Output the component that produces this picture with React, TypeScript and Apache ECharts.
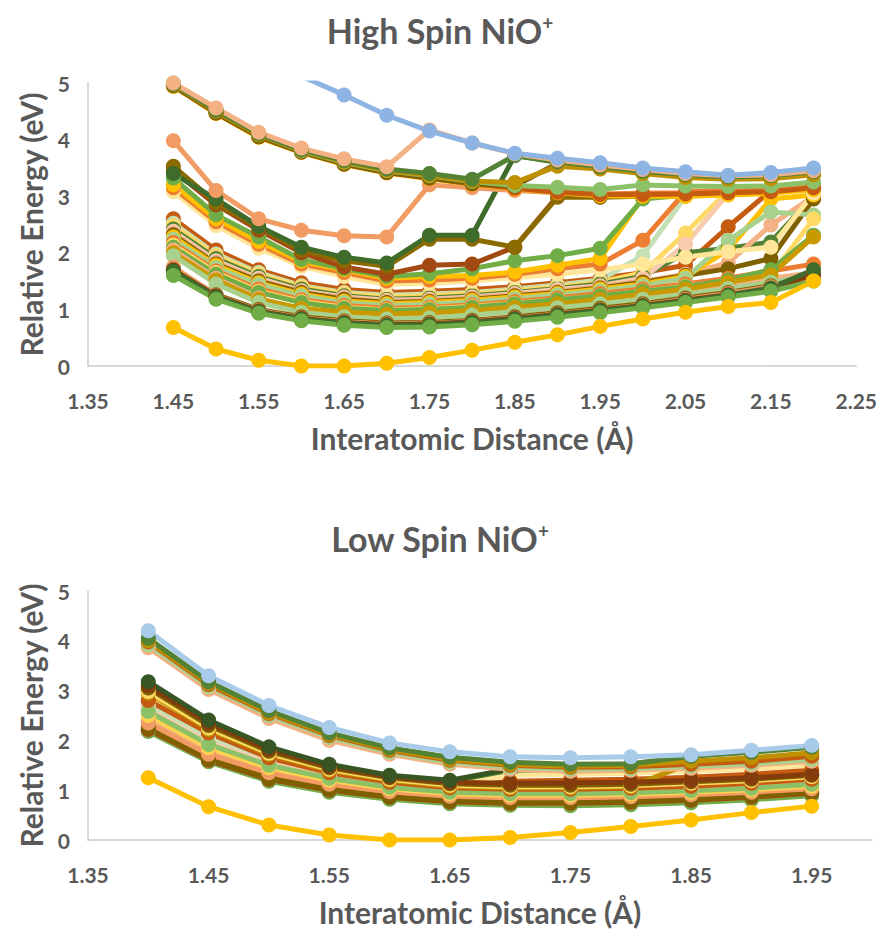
import React, { useEffect, useRef } from 'react';
import * as echarts from 'echarts';

const FONT = 'Lato, "Open Sans", sans-serif';
const GREY = '#595959';

// ---------- High spin (top) ----------
const hsX = [1.45, 1.5, 1.55, 1.6, 1.65, 1.7, 1.75, 1.8, 1.85, 1.9, 1.95, 2.0, 2.05, 2.1, 2.15, 2.2];
const hsTicks = ['1.35', '1.45', '1.55', '1.65', '1.75', '1.85', '1.95', '2.05', '2.15', '2.25'];

const hsGround = [0.68, 0.3, 0.1, 0.0, 0.0, 0.05, 0.15, 0.28, 0.42, 0.55, 0.7, 0.83, 0.95, 1.05, 1.12, 1.5];
const hsBlue = [7.2, 6.4, 5.7, 5.12, 4.79, 4.43, 4.15, 3.94, 3.76, 3.67, 3.59, 3.5, 3.43, 3.37, 3.42, 3.5];

const hsA1 = [4.94, 4.46, 4.04, 3.77, 3.56, 3.41, 3.31, 3.21, 3.13, 3.06, 3.01, 3.0, 3.0, 3.02, 3.05, 3.12];
const hsA2 = [4.96, 4.48, 4.06, 3.79, 3.58, 3.43, 3.33, 3.23, 3.15, 3.08, 3.04, 3.05, 3.06, 3.08, 3.1, 3.18];
const hsA3 = [4.95, 4.47, 4.05, 3.78, 3.57, 3.42, 3.32, 3.22, 3.14, 3.07, 3.03, 3.03, 3.04, 3.06, 3.08, 3.15];
const hsA4 = [5.0, 4.56, 4.13, 3.85, 3.66, 3.52, 4.17, 3.94, 3.75, 3.64, 3.55, 3.47, 3.4, 3.36, 3.38, 3.45];
const hsA5 = [4.98, 4.52, 4.1, 3.82, 3.63, 3.48, 3.4, 3.3, 3.72, 3.61, 3.52, 3.44, 3.38, 3.34, 3.36, 3.43];
const hsA6 = [4.97, 4.5, 4.08, 3.81, 3.61, 3.46, 3.37, 3.27, 3.24, 3.53, 3.48, 3.4, 3.33, 3.3, 3.31, 3.38];
const hsA7 = [5.0, 4.51, 4.09, 3.8, 3.6, 3.45, 3.36, 3.26, 3.19, 3.16, 3.12, 3.2, 3.18, 3.17, 3.18, 3.25];
const hsA8 = [4.95, 4.47, 4.05, 3.78, 3.57, 3.42, 3.32, 3.22, 3.18, 3.58, 3.5, 3.42, 3.35, 3.31, 3.32, 3.4];

const hsB1 = [3.98, 3.1, 2.6, 2.4, 2.3, 2.28, 3.2, 3.15, 3.1, 3.06, 3.02, 3.02, 3.04, 3.06, 3.1, 3.16];
const hsB2 = [3.4, 2.95, 2.47, 2.1, 1.92, 1.82, 2.31, 2.31, 3.72, 3.6, 3.5, 3.42, 3.36, 3.33, 3.34, 3.42];
const hsB3 = [3.53, 2.88, 2.45, 2.05, 1.86, 1.76, 2.24, 2.24, 2.1, 2.98, 2.98, 3.0, 3.02, 3.05, 3.08, 3.14];
const hsB4 = [3.45, 2.85, 2.4, 2.0, 1.75, 1.62, 1.78, 1.8, 2.1, 3.0, 2.99, 3.01, 3.03, 3.05, 3.08, 3.15];
const hsB5 = [3.32, 2.67, 2.28, 1.88, 1.72, 1.58, 1.63, 1.72, 1.86, 1.95, 2.08, 2.95, 3.02, 3.05, 3.1, 3.18];
const hsB6 = [3.2, 2.6, 2.2, 1.85, 1.7, 1.55, 1.58, 1.6, 1.66, 1.78, 1.9, 2.98, 3.0, 3.04, 3.08, 3.14];
const hsB7 = [3.15, 2.55, 2.15, 1.8, 1.65, 1.5, 1.52, 1.55, 1.62, 1.72, 1.8, 2.22, 3.08, 3.1, 3.12, 3.18];
const hsB8 = [3.08, 2.48, 2.08, 1.76, 1.58, 1.44, 1.46, 1.5, 1.56, 1.62, 1.7, 1.8, 1.92, 2.02, 2.1, 3.05];

const hsC1 = [2.6, 2.05, 1.7, 1.47, 1.35, 1.3, 1.32, 1.35, 1.4, 1.47, 1.55, 1.65, 1.78, 2.46, 3.1, 3.22];
const hsC2 = [2.52, 1.98, 1.65, 1.42, 1.3, 1.25, 1.27, 1.3, 1.36, 1.43, 1.52, 1.95, 3.0, 3.05, 3.1, 3.15];
const hsC3 = [2.48, 1.95, 1.62, 1.4, 1.28, 1.22, 1.24, 1.28, 1.33, 1.4, 1.48, 1.65, 2.35, 3.1, 3.12, 3.18];
const hsC4 = [2.42, 1.9, 1.58, 1.36, 1.24, 1.18, 1.2, 1.24, 1.3, 1.37, 1.45, 1.58, 2.0, 2.08, 2.19, 3.0];
const hsC5 = [2.38, 1.86, 1.55, 1.33, 1.22, 1.16, 1.18, 1.22, 1.28, 1.35, 1.42, 1.55, 2.15, 3.05, 3.08, 3.12];
const hsC6 = [2.34, 1.83, 1.52, 1.31, 1.2, 1.14, 1.16, 1.2, 1.26, 1.32, 1.4, 1.5, 1.62, 1.82, 2.49, 3.0];
const hsC7 = [2.32, 1.8, 1.5, 1.3, 1.18, 1.12, 1.14, 1.18, 1.24, 1.3, 1.38, 1.48, 1.6, 1.72, 1.9, 2.95];
const hsC8 = [2.28, 1.78, 1.47, 1.27, 1.15, 1.1, 1.12, 1.16, 1.22, 1.28, 1.36, 1.45, 1.58, 2.05, 2.95, 3.02];
const hsC9 = [2.24, 1.74, 1.44, 1.24, 1.12, 1.07, 1.09, 1.13, 1.19, 1.26, 1.33, 1.42, 1.55, 2.22, 2.72, 2.67];
const hsC10 = [2.18, 1.68, 1.36, 1.17, 1.07, 1.02, 1.04, 1.08, 1.14, 1.2, 1.28, 1.36, 1.45, 1.55, 1.68, 1.8];
const hsC11 = [2.14, 1.65, 1.32, 1.14, 1.04, 0.99, 1.01, 1.05, 1.11, 1.17, 1.24, 1.32, 1.41, 1.5, 1.6, 2.6];
const hsC12 = [2.1, 1.62, 1.3, 1.12, 1.02, 0.98, 1.0, 1.04, 1.1, 1.17, 1.24, 1.32, 1.4, 1.52, 1.7, 2.31];
const hsC13 = [2.05, 1.55, 1.2, 1.0, 0.9, 0.86, 0.88, 0.93, 1.0, 1.07, 1.15, 1.24, 1.33, 1.43, 1.55, 1.65];
const hsC14 = [2.0, 1.52, 1.18, 1.02, 0.95, 0.92, 0.94, 0.98, 1.04, 1.1, 1.18, 1.27, 1.36, 1.48, 1.61, 2.28];
const hsC15 = [1.95, 1.45, 1.12, 0.95, 0.87, 0.83, 0.85, 0.9, 0.96, 1.03, 1.1, 1.18, 1.27, 1.37, 1.48, 1.6];
const hsC16 = [1.72, 1.26, 1.0, 0.87, 0.8, 0.76, 0.77, 0.81, 0.87, 0.94, 1.02, 1.1, 1.2, 1.3, 1.42, 1.58];
const hsC17 = [1.75, 1.25, 0.98, 0.85, 0.78, 0.74, 0.75, 0.79, 0.85, 0.92, 1.0, 1.08, 1.18, 1.28, 1.4, 1.55];
const hsC18 = [1.7, 1.24, 0.97, 0.84, 0.77, 0.73, 0.74, 0.78, 0.84, 0.91, 0.99, 1.07, 1.16, 1.26, 1.36, 1.62];
const hsC19 = [1.68, 1.22, 0.96, 0.83, 0.76, 0.72, 0.73, 0.77, 0.83, 0.9, 0.98, 1.06, 1.15, 1.25, 1.38, 1.7];
const hsC20 = [1.6, 1.18, 0.93, 0.8, 0.72, 0.68, 0.69, 0.73, 0.79, 0.86, 0.94, 1.03, 1.12, 1.22, 1.32, 1.5];

// drawing order (first = bottom)
const hsSeries: [number[], string][] = [
  [hsC1, '#C55A11'], [hsC2, '#C5E0B4'], [hsC3, '#FFD966'], [hsC4, '#548235'], [hsC5, '#F8CBAD'],
  [hsC6, '#F4B183'], [hsC7, '#7F6000'], [hsC8, '#FFC000'], [hsC9, '#A9D18E'], [hsC10, '#ED7D31'],
  [hsC11, '#FFD966'], [hsC12, '#70AD47'], [hsC13, '#F4B183'], [hsC14, '#C89A00'], [hsC15, '#A9D18E'],
  [hsC16, '#7F6000'], [hsC17, '#F19C64'], [hsC18, '#843C0C'], [hsC19, '#3F6B2B'], [hsC20, '#70AD47'],
  [hsB8, '#FFE699'], [hsB7, '#ED7D31'], [hsB6, '#FFC000'], [hsB5, '#70AD47'], [hsB4, '#A34A12'],
  [hsB3, '#8B6A00'], [hsB2, '#3F6B2B'], [hsB1, '#F19C64'],
  [hsA1, '#FFC000'], [hsA2, '#ED7D31'], [hsA3, '#C55A11'], [hsA8, '#7F6000'], [hsA7, '#8CC168'],
  [hsA6, '#BF9000'], [hsA5, '#548235'], [hsA4, '#F4B183'],
  [hsBlue, '#8EB4E3'], [hsGround, '#FFC000'],
];

// ---------- Low spin (bottom) ----------
const lsX = [1.4, 1.45, 1.5, 1.55, 1.6, 1.65, 1.7, 1.75, 1.8, 1.85, 1.9, 1.95];
const lsTicks = ['1.35', '1.45', '1.55', '1.65', '1.75', '1.85', '1.95'];

const lsGround = [1.25, 0.67, 0.3, 0.1, 0.0, 0.0, 0.05, 0.15, 0.27, 0.4, 0.55, 0.68];
const lsBlue = [4.2, 3.3, 2.7, 2.26, 1.95, 1.77, 1.67, 1.65, 1.67, 1.71, 1.8, 1.9];

const lsU1 = [4.05, 3.18, 2.6, 2.15, 1.85, 1.66, 1.56, 1.52, 1.53, 1.68, 1.76, 1.86];
const lsU2 = [4.0, 3.15, 2.56, 2.12, 1.82, 1.62, 1.52, 1.48, 1.5, 1.58, 1.65, 1.75];
const lsU3 = [3.98, 3.12, 2.54, 2.1, 1.8, 1.6, 1.5, 1.46, 1.47, 1.52, 1.58, 1.68];
const lsU4 = [3.92, 3.08, 2.5, 2.06, 1.76, 1.56, 1.46, 1.42, 1.43, 1.48, 1.53, 1.62];
const lsU5 = [3.86, 3.02, 2.44, 2.0, 1.72, 1.52, 1.42, 1.38, 1.4, 1.44, 1.5, 1.58];

const lsM1 = [3.18, 2.41, 1.87, 1.52, 1.3, 1.2, 1.42, 1.44, 1.45, 1.48, 1.53, 1.62];
const lsM2 = [3.1, 2.35, 1.82, 1.48, 1.27, 1.16, 1.14, 1.15, 1.16, 1.2, 1.25, 1.32];
const lsM3 = [3.05, 2.3, 1.78, 1.45, 1.25, 1.13, 1.1, 1.1, 1.12, 1.17, 1.22, 1.3];
const lsM4 = [2.98, 2.25, 1.74, 1.42, 1.22, 1.1, 1.07, 1.07, 1.09, 1.14, 1.19, 1.27];
const lsM5 = [2.95, 2.22, 1.72, 1.4, 1.2, 1.08, 1.05, 1.05, 1.07, 1.55, 1.6, 1.66];
const lsM6 = [2.8, 2.15, 1.65, 1.35, 1.16, 1.05, 1.02, 1.02, 1.04, 1.08, 1.14, 1.22];
const lsM7 = [2.58, 1.92, 1.5, 1.24, 1.06, 0.96, 0.93, 0.93, 0.95, 0.99, 1.04, 1.12];
const lsM8 = [2.5, 1.85, 1.45, 1.2, 1.03, 0.93, 0.9, 0.9, 0.92, 0.96, 1.01, 1.08];
const lsM9 = [2.35, 1.72, 1.35, 1.12, 0.97, 0.88, 0.85, 0.85, 0.87, 0.91, 0.96, 1.03];
const lsM10 = [2.4, 1.76, 1.38, 1.15, 0.99, 0.9, 0.87, 0.87, 0.89, 0.93, 0.98, 1.05];
const lsM11 = [2.25, 1.62, 1.24, 1.02, 0.87, 0.79, 0.76, 0.76, 0.78, 0.82, 0.88, 0.96];
const lsM12 = [2.22, 1.6, 1.22, 1.0, 0.86, 0.77, 0.74, 0.74, 0.76, 0.8, 0.86, 0.94];
const lsM13 = [2.18, 1.57, 1.18, 0.96, 0.82, 0.73, 0.7, 0.69, 0.71, 0.75, 0.81, 0.89];
const lsM14 = [2.2, 1.58, 1.2, 0.98, 0.84, 0.76, 0.73, 0.72, 0.74, 0.78, 0.84, 0.93];
const lsM15 = [2.28, 1.66, 1.28, 1.06, 0.92, 0.84, 0.81, 0.81, 0.83, 0.87, 0.92, 1.0];
const lsM16 = [2.62, 1.96, 1.54, 1.27, 1.09, 0.99, 0.96, 0.96, 0.98, 1.02, 1.07, 1.15];
const lsM17 = [2.7, 2.05, 1.6, 1.31, 1.12, 1.02, 0.99, 0.99, 1.01, 1.05, 1.1, 1.18];
const lsM18 = [2.78, 2.12, 1.63, 1.33, 1.14, 1.04, 1.18, 1.2, 1.22, 1.26, 1.32, 1.4];
const lsM19 = [2.9, 2.2, 1.7, 1.38, 1.18, 1.07, 1.3, 1.32, 1.34, 1.38, 1.43, 1.5];
const lsM20 = [3.0, 2.28, 1.76, 1.43, 1.23, 1.12, 1.35, 1.36, 1.38, 1.42, 1.46, 1.52];

const lsSeries: [number[], string][] = [
  [lsM20, '#548235'], [lsM19, '#FFE699'], [lsM18, '#C55A11'], [lsM17, '#C5E0B4'], [lsM16, '#F8CBAD'],
  [lsM15, '#ED7D31'], [lsM14, '#3F6B2B'], [lsM13, '#70AD47'], [lsM12, '#A34A12'], [lsM11, '#7F6000'],
  [lsM10, '#F4B183'], [lsM9, '#F19C64'], [lsM8, '#FFD34E'], [lsM7, '#8CC168'], [lsM6, '#C55A11'],
  [lsM5, '#BF9000'], [lsM4, '#FFD966'], [lsM3, '#7F6000'], [lsM2, '#843C0C'], [lsM1, '#375623'],
  [lsU5, '#F4B183'], [lsU4, '#A9D18E'], [lsU3, '#C55A11'], [lsU2, '#BF9000'], [lsU1, '#548235'],
  [lsBlue, '#A9CBEA'], [lsGround, '#FFC000'],
];

const labelStyle = { fontFamily: FONT, fontWeight: 'bold' as const, fontSize: 21, color: GREY };
const nameStyle = { fontFamily: FONT, fontWeight: 'bold' as const, fontSize: 30, color: GREY };
const axisLine = { show: true, lineStyle: { color: '#CCCCCC', width: 1.5 } };

function xAxis(grid: number, max: number, ticks: string[]) {
  return {
    type: 'value', gridIndex: grid, min: 1.35, max, interval: 0.1,
    axisLine, axisTick: { show: false }, splitLine: { show: false },
    axisLabel: {
      ...labelStyle, margin: 24, showMaxLabel: max === 2.25,
      formatter: (v: number) => {
        const s = v.toFixed(2);
        return ticks.indexOf(s) >= 0 ? s : '';
      },
    },
    name: 'Interatomic Distance (Å)', nameLocation: 'middle', nameGap: 57, nameTextStyle: nameStyle,
  };
}
function yAxis(grid: number) {
  return {
    type: 'value', gridIndex: grid, min: 0, max: 5, interval: 1,
    axisLine, axisTick: { show: false }, splitLine: { show: false },
    axisLabel: { ...labelStyle, margin: 18 },
    name: 'Relative Energy (eV)', nameLocation: 'middle', nameGap: 42, nameTextStyle: nameStyle,
  };
}

function makeSeries(list: [number[], string][], xs: number[], idx: number) {
  return list.map(([vals, color], k) => ({
    type: 'line', name: `s${idx}_${k}`, xAxisIndex: idx, yAxisIndex: idx,
    data: xs.map((x, i) => [x, vals[i]]),
    symbol: 'circle', symbolSize: 15, silent: true,
    lineStyle: { width: 5, color }, itemStyle: { color },
  }));
}

function titleOf(text: string, top: number) {
  return {
    text: `{t|${text}}{s|+}`, left: 'center', top,
    textStyle: {
      rich: {
        t: { fontFamily: FONT, fontWeight: 'bold', fontSize: 34, color: GREY },
        s: { fontFamily: FONT, fontWeight: 'bold', fontSize: 19, color: GREY, verticalAlign: 'top' },
      },
    },
  };
}

export default function App() {
  const ref = useRef<HTMLDivElement>(null);
  useEffect(() => {
    if (!ref.current) return;
    const chart = echarts.init(ref.current, undefined, { renderer: 'svg' });
    chart.setOption({
      animation: false,
      backgroundColor: '#FFFFFF',
      title: [titleOf('High Spin NiO', 8), titleOf('Low Spin NiO', 516)],
      grid: [
        { left: 88, top: 83, width: 770, height: 283 },
        { left: 88, top: 591, width: 784, height: 249 },
      ],
      xAxis: [xAxis(0, 2.25, hsTicks), xAxis(1, 2.0, lsTicks)],
      yAxis: [yAxis(0), yAxis(1)],
      series: [...makeSeries(hsSeries, hsX, 0), ...makeSeries(lsSeries, lsX, 1)],
    });
    return () => chart.dispose();
  }, []);
  return (
    <div
      ref={ref}
      style={{ position: 'fixed', left: 0, top: 0, width: 880, height: 930, background: '#fff' }}
    />
  );
}
